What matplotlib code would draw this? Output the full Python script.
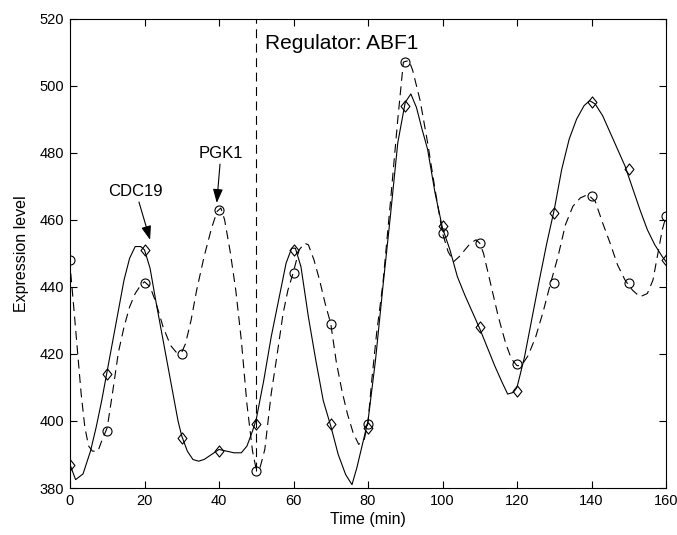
import matplotlib
matplotlib.use("Agg")
import matplotlib.pyplot as plt
from matplotlib.path import Path

plt.rcParams['font.family'] = ['Liberation Sans', 'DejaVu Sans']

# ---- data ----
sample_times = [0, 10, 20, 30, 40, 50, 60, 70, 80, 90, 100, 110, 120, 130, 140, 150, 160]
cdc19_points = [387, 414, 451, 395, 391, 399, 451, 399, 398, 494, 458, 428, 409, 462, 495, 475, 448]
pgk1_points = [448, 397, 441, 420, 463, 385, 444, 429, 399, 507, 456, 453, 417, 441, 467, 441, 461]

cdc19_curve_t = [0, 1.5, 3.5, 5.5, 7, 8.5, 10, 11.5, 13, 14.5, 16, 17.5, 19, 20, 21.5, 23, 24.5,
                 26, 27.5, 29, 30, 31.5, 33, 34.5, 36, 38, 40, 42, 44, 46, 47.5, 49, 50, 52,
                 54, 56, 58, 59.5, 60.5, 62, 64, 66, 68, 70, 72, 74, 75.7, 77, 78.5, 80, 82,
                 84, 86, 88, 90, 91.5, 93, 94.5, 96, 98, 100, 102, 104, 106, 108, 110, 112,
                 114, 116, 117.5, 119, 120, 122, 124, 126, 128, 130, 132, 134, 136, 138,
                 139.5, 141, 143, 145, 147, 149, 151, 153, 155, 157, 159, 160]
cdc19_curve_v = [387, 382.5, 384.2, 391, 398, 406, 415, 424, 433, 442, 448.5, 452, 452, 451,
                 445.5, 436, 427, 418, 409, 400, 395.5, 391, 388.5, 388, 388.5, 390, 391.5,
                 391, 390.5, 390.5, 392.5, 397, 400.5, 412, 425, 436, 447, 451.5, 451.5, 446,
                 431, 418, 406, 398.5, 390, 384, 381, 386, 393, 400, 418, 440, 461, 483, 495,
                 497.5, 493.5, 487, 481, 468, 457.5, 451, 443, 437.5, 432.5, 427.5, 422,
                 416.5, 411.5, 408, 408.5, 410, 419, 430.5, 442, 453, 463, 475, 484, 490,
                 494, 495.5, 494.5, 491, 486, 481, 476, 469.5, 463, 457, 452.5, 449, 447.5]

pgk1_curve_t = [0.2, 1, 2, 3, 4, 5, 6, 7.5, 8.5, 10, 11.5, 13, 14.5, 16, 17.5, 19, 20, 21.5,
                23, 25, 27, 28.5, 30, 31, 32.5, 34, 36, 38, 39.5, 40.5, 41.5, 43, 44.5, 46,
                47.5, 49, 50, 51, 52.3, 54, 55.5, 57.2, 58.5, 60, 61.5, 63, 64, 65.5, 67,
                68.5, 70, 71.5, 73, 74.5, 76, 77.5, 79, 80, 81, 82.3, 84, 86, 88, 89.5, 91,
                92, 94, 96, 98, 100, 101.5, 103, 104.5, 106, 107.5, 109, 110, 111, 113, 115,
                117, 118.5, 120, 121.2, 123, 125, 127, 129, 131, 133, 135, 137, 139, 141,
                143, 145, 147, 149, 151, 153, 155, 156.5, 158, 159, 160]
pgk1_curve_v = [444, 434, 421, 408, 398, 392.5, 391, 391, 394, 398, 409, 420.5, 428, 434,
                438, 440.5, 441.5, 440, 435.5, 428, 422.5, 420.5, 420.5, 423, 430, 439, 449,
                457.5, 462.5, 463.5, 460, 450.5, 439, 424, 405, 391, 385.5, 386, 391.5, 408,
                419, 432, 439, 444.5, 451, 453, 452.5, 448, 442, 435, 429, 417.5, 409, 402,
                396.5, 393, 394.5, 399.5, 412, 426, 441, 465, 490, 507, 507.5, 504.5, 495.5,
                483, 469, 456, 450.5, 447.5, 449, 451, 453, 454, 453, 450, 440.5, 431, 423,
                418.5, 416.5, 416.5, 419.5, 425, 432.5, 441, 449, 458.5, 464, 466.5, 467.5,
                465.5, 459, 453, 446.5, 442, 439, 437, 438, 442, 451, 457, 461]

regulator_time = 50
regulator_label = "Regulator: ABF1"
x_ticks = [0, 20, 40, 60, 80, 100, 120, 140, 160]
y_ticks = [380, 400, 420, 440, 460, 480, 500, 520]

# ---- figure ----
fig = plt.figure(figsize=(6.77, 5.35), dpi=100)
ax = fig.add_axes([70/677, 1-488/535, 596/677, 469.5/535])

diamond = Path([(0, 1), (0.8, 0), (0, -1), (-0.8, 0), (0, 1)],
               [Path.MOVETO, Path.LINETO, Path.LINETO, Path.LINETO, Path.CLOSEPOLY])

dash = (0, (8, 5))
ax.plot(cdc19_curve_t, cdc19_curve_v, color='black', lw=0.8)
ax.plot(pgk1_curve_t, pgk1_curve_v, color='black', lw=0.8, ls=dash)
ax.plot(sample_times, cdc19_points, ls='none', marker=diamond, ms=8, mfc='none',
        mec='black', mew=0.8)
ax.plot(sample_times, pgk1_points, ls='none', marker='o', ms=6.5, mfc='none',
        mec='black', mew=0.8)

ax.plot([regulator_time, regulator_time], [min(pgk1_points), y_ticks[-1]],
        color='black', lw=0.8, ls=dash)
ax.text(52.3, 511, regulator_label, fontsize=15, ha='left', va='baseline')

arrow = dict(arrowstyle='-|>,head_length=0.7,head_width=0.25', color='black', lw=0.8,
             shrinkA=0, shrinkB=0)
ax.annotate('CDC19', xy=(21.5, 454), xytext=(17.7, 467), fontsize=12,
            ha='center', va='baseline', arrowprops=arrow)
ax.annotate('PGK1', xy=(39.4, 465), xytext=(40.5, 478.3), fontsize=12,
            ha='center', va='baseline', arrowprops=arrow)

ax.set_xlim(x_ticks[0], x_ticks[-1])
ax.set_ylim(y_ticks[0], y_ticks[-1])
ax.set_xticks(x_ticks)
ax.set_yticks(y_ticks)
ax.tick_params(direction='in', top=True, right=True, length=5, width=0.8, labelsize=10.5,
               pad=4)
for s in ax.spines.values():
    s.set_linewidth(0.8)
ax.set_xlabel('Time (min)', fontsize=11.5, labelpad=3)
ax.set_ylabel('Expression level', fontsize=11.5, labelpad=8)

fig.savefig('out.png', dpi=100)
